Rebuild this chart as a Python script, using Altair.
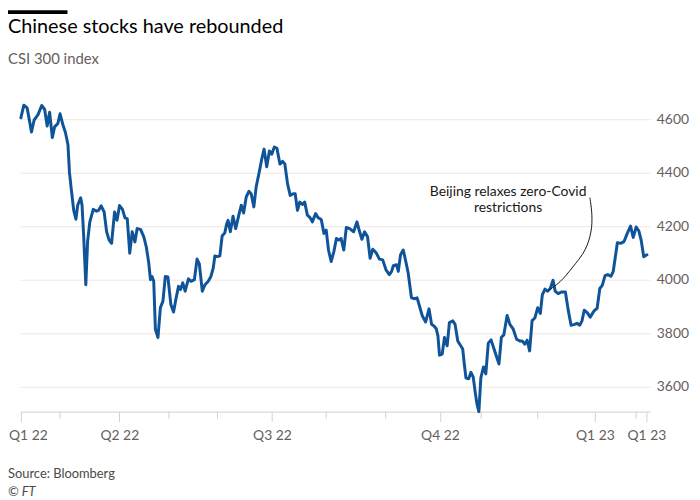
import altair as alt
import pandas as pd

# ---- data ----
session = [0, 3, 6.3, 10.7, 13.3, 17.3, 21, 24, 26.5, 29,
           31.7, 34, 37.3, 39.5, 42.3, 45, 47.5, 49, 51, 53.3,
           55.5, 57.3, 60.3, 61.7, 63.3, 65.5, 67.3, 69.5, 73, 76.3,
           78.3, 81, 84, 86.5, 89, 91.5, 94.5, 97, 99.5, 102.5,
           105, 107.3, 109.8, 112.3, 115, 117.3, 120.7, 124, 126.5, 129,
           130.7, 132.3, 134, 135.7, 138.3, 140.7, 143.3, 145.7, 148.3, 151.3,
           154, 156.3, 159, 161, 163.3, 165.7, 169, 171.7, 175, 177.7,
           180, 183, 185.7, 189, 191.7, 194, 195.7, 198.3, 200.7, 203,
           205.7, 207.5, 209, 211.3, 214, 216.7, 220, 222.3, 224.7, 227.3,
           230, 232.3, 235, 237.3, 240.7, 243, 245.3, 248, 250.7, 253,
           255.7, 258.3, 261.3, 264, 266.3, 269, 271.7, 274.7, 276.7, 279,
           281.3, 284, 286.3, 289, 291.7, 294, 297.3, 299.7, 303, 305.7,
           308, 310.3, 313, 315.7, 318.3, 320.7, 323, 325.7, 328.3, 331.7,
           335.7, 339, 341.7, 344, 346.7, 349.7, 352.3, 355, 358.3, 361.7,
           365, 368.3, 371.7, 374, 375.7, 379, 380.7, 383, 385.7, 388.3,
           390.7, 394, 397.3, 399.7, 402.3, 405, 408.3, 411.7, 414.3, 416.7,
           419, 420.7, 422.3, 425, 427.3, 430, 432.3, 435.7, 438, 440.7,
           444, 445.7, 447.3, 449, 451.7, 454, 456.3, 458.3, 460, 462,
           464, 466.7, 469, 471.5, 474.3, 477.3, 480, 482.3, 484.7, 487.2,
           490.5, 493.3, 496.7, 500, 503.3, 505.7, 508.3, 510.7, 513.2, 515.7,
           518.5, 521.3, 524, 526, 528.7, 531.3, 534, 536.8, 539, 542,
           545.3, 549.3, 552, 555, 558.6, 561, 563.7, 566, 568.3, 571.5,
           574.3, 578.3, 581.3, 584, 586.5, 589.3, 592, 595.2, 597.5, 599.5,
           601.7, 605, 608.3, 611.7, 615, 617.7, 620.7, 623.3, 625.7, 628.3,
           631.5]

csi300 = [4605, 4652, 4642, 4552, 4596, 4617, 4651, 4636, 4574, 4626,
          4531, 4571, 4584, 4620, 4580, 4549, 4504, 4401, 4333, 4259,
          4226, 4278, 4306, 4278, 4167, 3981, 4142, 4215, 4263, 4256,
          4259, 4276, 4253, 4179, 4148, 4136, 4253, 4222, 4277, 4263,
          4231, 4228, 4099, 4179, 4141, 4191, 4188, 4160, 4123, 4062,
          4000, 4012, 3994, 3815, 3784, 3895, 3920, 4012, 4010, 3907,
          3879, 3926, 3975, 3963, 3988, 3957, 4003, 3994, 4000, 4077,
          4059, 3957, 3981, 3994, 4012, 4043, 4089, 4086, 4089, 4163,
          4175, 4207, 4222, 4179, 4237, 4191, 4244, 4278, 4249, 4309,
          4330, 4321, 4272, 4346, 4407, 4451, 4488, 4422, 4481, 4469,
          4496, 4491, 4432, 4442, 4432, 4358, 4315, 4321, 4321, 4259,
          4290, 4281, 4290, 4241, 4232, 4216, 4247, 4232, 4225, 4173,
          4185, 4111, 4068, 4105, 4154, 4148, 4154, 4111, 4195, 4191,
          4179, 4216, 4179, 4151, 4179, 4160, 4080, 4114, 4101, 4077,
          4074, 4037, 4019, 4031, 4052, 4056, 4031, 4093, 4111, 4068,
          4025, 3932, 3929, 3932, 3899, 3864, 3842, 3891, 3833, 3827,
          3817, 3790, 3718, 3722, 3784, 3753, 3840, 3846, 3833, 3771,
          3751, 3741, 3685, 3632, 3630, 3654, 3636, 3580, 3537, 3507,
          3633, 3674, 3648, 3763, 3775, 3741, 3710, 3685, 3785, 3794,
          3866, 3833, 3815, 3778, 3771, 3771, 3759, 3774, 3734, 3847,
          3857, 3895, 3874, 3943, 3965, 3957, 3967, 3998, 3957, 3948,
          3954, 3954, 3889, 3830, 3833, 3837, 3830, 3846, 3886, 3876,
          3860, 3884, 3893, 3967, 3979, 4015, 4019, 4013, 4030, 4081,
          4138, 4136, 4142, 4173, 4200, 4158, 4197, 4183, 4148, 4086,
          4093]

tick_pos = [0, 99.3, 253.3, 422.7, 579, 631]
tick_labels = ["Q1 22", "Q2 22", "Q3 22", "Q4 22", "Q1 23", "Q1 23"]
minor_ticks = [39.3, 149.3, 198.3, 308, 368, 464.3, 521.3, 620.7]
y_ticks = [3600, 3800, 4000, 4200, 4400, 4600]

note_session = [491.5]
note_value = [4311]
note_text = ["Beijing relaxes zero-Covid\nrestrictions"]

arc_session = [574, 576, 575, 569, 556, 544, 532]
arc_value = [4307, 4241, 4178, 4111, 4044, 3993, 3959]

title_text = "Chinese stocks have rebounded"
subtitle_text = "CSI 300 index"
source_text = "Source: Bloomberg"
copyright_text = "© FT"

# ---- styling ----
W, H = 636, 318
FONT = "Lato"
NARROW = "'Liberation Sans Narrow', Lato"
GREY = "#66605c"
AXIS = "#d6d0ca"
GRID = "#efe8e2"
BLUE = "#0f5499"

x_scale = alt.Scale(domain=[-1, 635], nice=False, zero=False)
y_scale = alt.Scale(domain=[3507, 4685], nice=False, zero=False)

label_expr = ("[" + ",".join("'%s'" % l for l in tick_labels) + "][indexof(["
              + ",".join(str(v) for v in tick_pos) + "], datum.value)]")

x_axis = alt.Axis(values=tick_pos, labelExpr=label_expr, title=None,
                  grid=False, tickSize=10, tickColor=AXIS,
                  domainColor=AXIS, labelPadding=7, labelFontSize=14,
                  labelColor=GREY, labelFont=FONT, labelOverlap=False,
                  labelFlush=False,
                  labelOffset={"condition": {"test": "datum.value == 0", "value": 7},
                               "value": 0})
y_axis = alt.Axis(orient="right", values=y_ticks, format="d",
                  title=None, ticks=False, tickSize=0, domain=False,
                  grid=True, gridColor=GRID, labelPadding=6,
                  labelAlign="left", labelFontSize=14,
                  labelColor=GREY, labelFont=FONT)

X = alt.X("session:Q", scale=x_scale, axis=x_axis)
Y = alt.Y("csi300:Q", scale=y_scale, axis=y_axis)

df = pd.DataFrame({"session": session, "csi300": csi300})

line = alt.Chart(df).mark_line(
    color=BLUE, strokeWidth=3, strokeJoin="round", strokeCap="round"
).encode(x=X, y=Y)

minor = alt.Chart(pd.DataFrame({"session": minor_ticks})).mark_rule(
    color=AXIS, strokeWidth=1
).encode(x=X, y=alt.value(H), y2=alt.value(H + 7))

arc = alt.Chart(pd.DataFrame({"session": arc_session, "csi300": arc_value,
                              "order": list(range(len(arc_session)))})).mark_line(
    color="#1a1817", strokeWidth=1, interpolate="catmull-rom"
).encode(x=X, y=Y, order="order:Q")

note = alt.Chart(pd.DataFrame({"session": note_session, "csi300": note_value,
                               "text": note_text})).mark_text(
    align="center", baseline="alphabetic", fontSize=14, font=FONT,
    color="#1a1817", lineBreak="\n", lineHeight=16
).encode(x=X, y=Y, text="text:N")


def label(text, y, size, color, font=FONT, style="normal"):
    return alt.Chart(pd.DataFrame({"text": [text]})).mark_text(
        align="left", baseline="alphabetic", fontSize=size, font=font,
        color=color, fontStyle=style
    ).encode(x=alt.value(-12), y=alt.value(y), text="text:N")


title = label(title_text, -64, 20, "#000000")
subtitle = label(subtitle_text, -33, 15, GREY)
source = label(source_text, 385, 13, "#4d4845", font=NARROW)
copyright_ = label(copyright_text, 403, 13, "#4d4845", font=NARROW, style="italic")

bar = alt.Chart(pd.DataFrame({"k": [1]})).mark_rect(color="#000000").encode(
    x=alt.value(-12), x2=alt.value(48), y=alt.value(-87), y2=alt.value(-83)
)

chart = alt.layer(
    line, minor, arc, note, title, subtitle, source, copyright_, bar
).properties(
    width=W, height=H,
    padding={"left": 12, "top": 87, "right": 42, "bottom": 87},
    autosize=alt.AutoSizeParams(type="none"),
    background="#ffffff",
).configure_view(stroke=None)

chart.save("out.html", embed_options={"renderer": "svg", "actions": False})
